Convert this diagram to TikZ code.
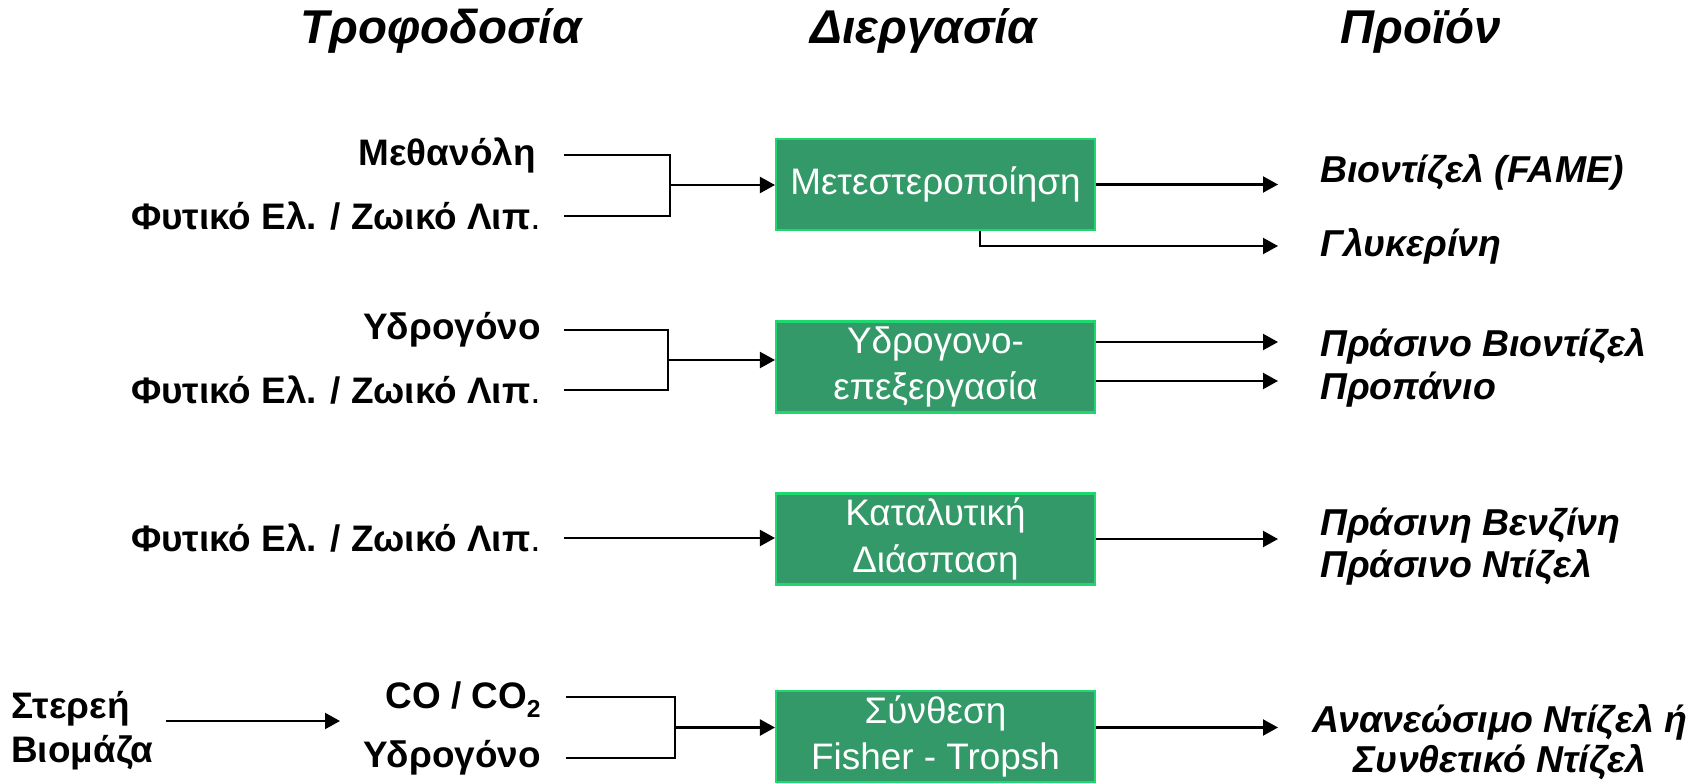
\documentclass[tikz,border=0pt]{standalone}
\usepackage{fontspec}
\setmainfont{Liberation Sans}
\usetikzlibrary{arrows.meta}
\definecolor{procgreen}{RGB}{52,153,104}
\definecolor{procedge}{RGB}{30,215,110}
\tikzset{
	feed/.style={font=\bfseries\fontsize{21}{25}\selectfont, inner sep=0pt},
	prod/.style={font=\bfseries\itshape\fontsize{21.3}{23}\selectfont, inner sep=0pt, anchor=west},
	head/.style={font=\bfseries\itshape\fontsize{27}{32}\selectfont, inner sep=0pt},
	proc/.style={draw=procedge, fill=procgreen, line width=1.2pt, text=white, minimum width=6.38cm, minimum height=1.82cm, inner sep=0pt, align=center, font=\fontsize{21}{26.5}\selectfont},
	flow/.style={line width=1.2pt, -{Triangle[length=0.3cm,width=0.32cm]}},
	link/.style={line width=1.2pt}
}
\newcommand{\subtwo}{\raisebox{-0.45ex}{\fontsize{14}{14}\selectfont 2}}

\begin{document}
\begin{tikzpicture}[x=0.02cm, y=-0.02cm]
			%%%%% START %%%%%
			\useasboundingbox (0,0) rectangle (1708,784);
			
			\node[head] (hfeed) at (441,31) {Τροφοδοσία};
			\node[head] (hproc) at (924,31) {Διεργασία};
			\node[head] (hprod) at (1421,31) {Προϊόν};
			
			\node[proc] (transest) at (935.5,184.5) {Μετεστεροποίηση};
			\node[proc] (hydro) at (935.5,367) {Υδρογονο-\\επεξεργασία};
			\node[proc] (crack) at (935.5,539) {Καταλυτική\\Διάσπαση};
			\node[proc] (fts) at (935.5,736.5) {Σύνθεση\\Fisher - Tropsh};
			
			% transesterification
			\node[feed, anchor=east] (meth) at (536,155) {Μεθανόλη};
			\node[feed, anchor=east] (oila) at (541,216) {Φυτικό Ελ. / Ζωικό Λιπ\textmd{.}};
			\coordinate (joina) at (670,185);
			\draw[link] ([xshift=0.46cm]oila.east |- meth.east) -| (joina);
			\draw[link] ([xshift=0.46cm]oila.east) -| (joina);
			\draw[flow] (joina) -- (joina -| transest.west);
			
			\node[prod] (fame) at (1320,172) {Βιοντίζελ (FAME)};
			\node[prod] (glyc) at (1320,246) {Γλυκερίνη};
			\draw[flow, shorten >=0.84cm] (transest.east) -- (transest.east -| fame.west);
			\draw[flow, shorten >=0.84cm] ([xshift=0.89cm]transest.south) |- (glyc.west);
			
			% hydrotreating
			\node[feed, anchor=east] (hyda) at (541,330) {Υδρογόνο};
			\node[feed, anchor=east] (oilb) at (541,390) {Φυτικό Ελ. / Ζωικό Λιπ\textmd{.}};
			\coordinate (joinb) at (668,360);
			\draw[link] ([xshift=0.46cm]hyda.east) -| (joinb);
			\draw[link] ([xshift=0.46cm]oilb.east) -| (joinb);
			\draw[flow] (joinb) -- (joinb -| hydro.west);
			
			\node[prod] (greenbio) at (1320,346) {Πράσινο Βιοντίζελ};
			\node[prod] (propane) at (1320,390) {Προπάνιο};
			\draw[flow, shorten >=0.84cm] ([yshift=0.5cm]hydro.east) -- ([yshift=0.5cm]hydro.east -| propane.west);
			\draw[flow, shorten >=0.84cm] ([yshift=-0.28cm]hydro.east) -- ([yshift=-0.28cm]hydro.east -| propane.west);
			
			% catalytic cracking
			\node[feed, anchor=east] (oilc) at (541,538) {Φυτικό Ελ. / Ζωικό Λιπ\textmd{.}};
			\draw[flow] ([xshift=0.46cm]oilc.east) -- (oilc.east -| crack.west);
			
			\node[prod] (gasoline) at (1320,526) {Πράσινη Βενζίνη};
			\node[prod] (greendsl) at (1320,567) {Πράσινο Ντίζελ};
			\draw[flow, shorten >=0.84cm] (crack.east) -- (crack.east -| gasoline.west);
			
			% Fischer-Tropsch
			\node[feed, anchor=west, align=left] (solid) at (11,731) {Στερεή\\Βιομάζα};
			\coordinate (gasin) at (340,721);
			\draw[flow] ([xshift=0.24cm]solid.east |- gasin) -- (gasin);
			
			\node[feed, anchor=east] (cogas) at (541,700) {CO / CO\subtwo};
			\node[feed, anchor=east] (hydb) at (541,758) {Υδρογόνο};
			\coordinate (joinc) at (675,727.5);
			\draw[link] ([xshift=0.5cm]hydb.east |- 0,697) -| (joinc);
			\draw[link] ([xshift=0.5cm]hydb.east) -| (joinc);
			\draw[flow] (joinc) -- (joinc -| fts.west);
			
			\node[prod, anchor=center, align=center] (renew) at (1500,742) {Ανανεώσιμο Ντίζελ ή\\Συνθετικό Ντίζελ};
			\coordinate (tipd) at (1278,727.5);
			\draw[flow] (fts.east |- tipd) -- (tipd);
			
			%%%%% END %%%%%
\end{tikzpicture}
\end{document}
